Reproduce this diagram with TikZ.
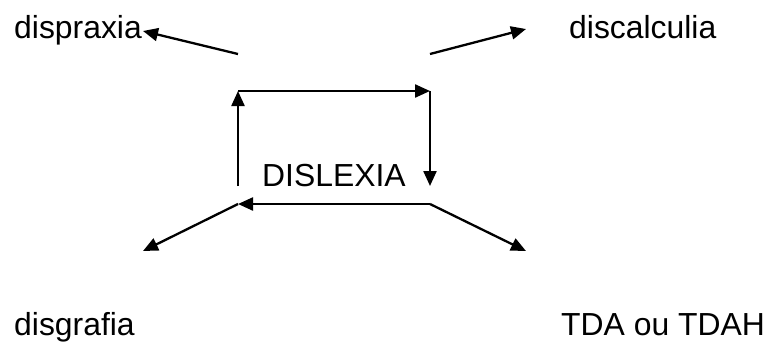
\documentclass[tikz,border=0pt]{standalone}
\usepackage{fontspec}
\setmainfont{Liberation Sans}
\usetikzlibrary{arrows.meta}
\begin{document}
\begin{tikzpicture}[x=1bp,y=-1bp,
  lbl/.style={inner sep=0pt,anchor=base west,font=\fontsize{32}{38}\selectfont},
  conn/.style={line width=2.3bp,-{Triangle[length=15bp,width=13bp]}},
  plain/.style={line width=2.3bp}]
\useasboundingbox (0,0) rectangle (768,341);
% text nodes
\node[lbl] (dispraxia) at (14,38) {dispraxia};
\node[lbl] (discalculia) at (569,38) {discalculia};
\node[lbl] (dislexia) at (262,186) {DISLEXIA};
\node[lbl] (disgrafia) at (14,335) {disgrafia};
\node[lbl] (tda) at (561,335) {TDA ou TDAH};
% connector points
\coordinate (ul) at (238,54);
\coordinate (ur) at (430,54);
\coordinate (tipul) at (143,31);
\coordinate (tipur) at (526,29);
\coordinate (tl) at (238,91);
\coordinate (tr) at (430,91);
\coordinate (lb) at (238,186);
\coordinate (rb) at (430,186);
\coordinate (bl) at (238,204);
\coordinate (br) at (430,204);
\coordinate (tipll) at (143,251);
\coordinate (tiplr) at (526,251);
% connectors
\draw[conn] (ul) -- (tipul);
\draw[conn] (ur) -- (tipur);
\draw[conn] (lb) -- (tl);
\draw[conn] (tl) -- (tr);
\draw[conn] (tr) -- (rb);
\draw[conn] (br) -- (bl);
\draw[conn] (bl) -- (tipll);
\draw[conn] (br) -- (tiplr);
\end{tikzpicture}
\end{document}
